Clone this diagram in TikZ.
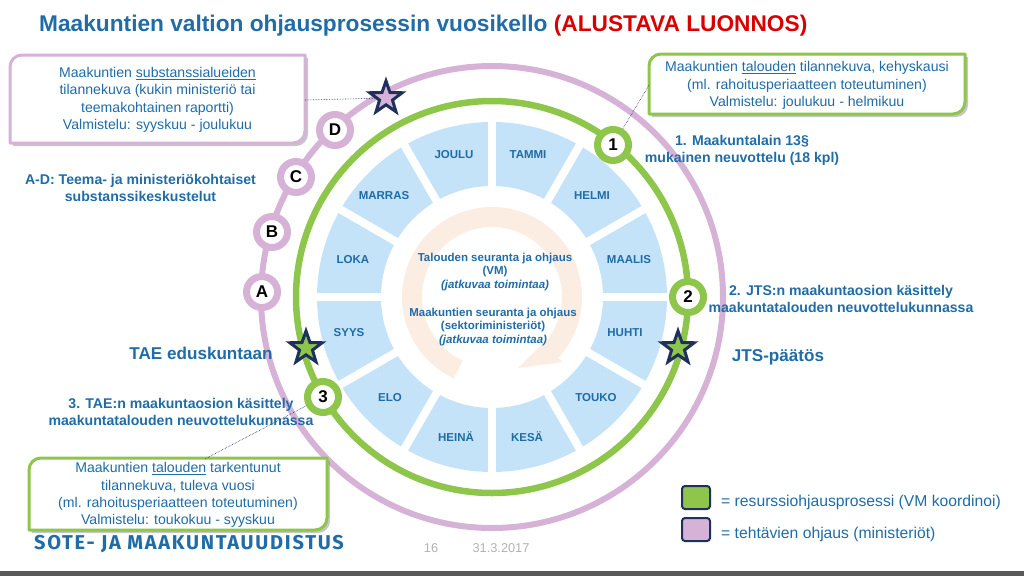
\documentclass[tikz,border=0pt]{standalone}
\usepackage{fontspec}
\setmainfont{Liberation Sans}
\newfontfamily\brandfont[LetterSpace=8.6]{Fira Sans}
\usetikzlibrary{calc, shapes.geometric, shadows}
\definecolor{ringGreen}{RGB}{141, 198, 74}
\definecolor{ringPurple}{RGB}{214, 179, 214}
\definecolor{monthBlue}{RGB}{196, 227, 248}
\definecolor{textBlue}{RGB}{31, 108, 166}
\definecolor{arcOrange}{RGB}{252, 237, 227}
\definecolor{starNavy}{RGB}{31, 48, 92}
\definecolor{footGray}{RGB}{89, 89, 89}
\tikzset{
  month/.style={text=textBlue, font=\fontsize{11.5}{13}\selectfont\bfseries},
  heading/.style={text=textBlue, align=center, font=\fontsize{14.1}{17}\selectfont\bfseries},
  bigheading/.style={text=textBlue, font=\fontsize{17.1}{19}\selectfont\bfseries},
  centertext/.style={text=textBlue, align=center, font=\fontsize{11.5}{13.8}\selectfont\bfseries},
  boxtext/.style={text=textBlue, align=center, font=\fontsize{14.1}{17.3}\selectfont, inner sep=0pt},
  boxline/.style={line width=3pt, line join=round, fill=white, drop shadow={shadow xshift=3pt, shadow yshift=-3pt, opacity=0.45}},
  marker/.style={circle, fill=white, line width=7pt, minimum size=31pt, inner sep=0pt, font=\fontsize{17}{17}\selectfont\bfseries},
  mark star/.style={star, star points=5, star point ratio=2.5, draw=starNavy, line width=3pt, minimum size=34pt, inner sep=0pt},
  leader/.style={densely dotted, line width=0.6pt, starNavy},
  swatch/.style={rectangle, draw=starNavy, line width=2pt, rounded corners=3pt, minimum width=28pt, minimum height=23pt},
  legendtext/.style={text=textBlue, anchor=west, inner sep=0pt, font=\fontsize{15.7}{17}\selectfont}
}

\begin{document}
\begin{tikzpicture}[x=1pt, y=-1pt]
  \useasboundingbox (0,0) rectangle (1024,576);
  \coordinate (c) at (492,297);

  % Footer bar
  \fill[footGray] (0,571) rectangle (1024,576);

  % Rings
  \draw[ringPurple, line width=6pt] (c) circle (231);
  \draw[ringGreen, line width=6.5pt] (c) circle (196);

  % Month sectors, cut by white spokes
  \fill[monthBlue, even odd rule] (c) circle (175) (c) circle (111);
  \foreach \a in {0,30,...,150}
    \draw[white, line width=8pt] ($(c)+(\a:180)$) -- ($(c)+(\a+180:180)$);

  % Continuous process arrow
  \draw[arcOrange, line width=20pt] (c) ++(115:80) arc (115:405:80);
  \fill[arcOrange] (563,362) -- (518,368) -- (541,345) -- cycle;

  % Month labels
  \node[month] (joulu) at (454,155) {JOULU};
  \node[month] (tammi) at (528,155) {TAMMI};
  \node[month] (helmi) at (592,196) {HELMI};
  \node[month] (maalis) at (629,260) {MAALIS};
  \node[month] (huhti) at (625,333) {HUHTI};
  \node[month] (touko) at (596,398) {TOUKO};
  \node[month] (kesa) at (527,437) {KESÄ};
  \node[month] (heina) at (456,437) {HEINÄ};
  \node[month] (elo) at (390,398) {ELO};
  \node[month] (syys) at (349,333) {SYYS};
  \node[month] (loka) at (353,260) {LOKA};
  \node[month] (marras) at (384,196) {MARRAS};

  % Center texts
  \node[centertext] (seurantaVM) at (495,272) {Talouden seuranta ja ohjaus\\(VM)\\\textit{(jatkuvaa toimintaa)}};
  \node[centertext] (seurantaSekt) at (493,327) {Maakuntien seuranta ja ohjaus\\(sektoriministeriöt)\\\textit{(jatkuvaa toimintaa)}};

  % Title
  \node[anchor=west, inner sep=0pt, text=textBlue, font=\fontsize{22.7}{25}\selectfont\bfseries] (title) at (39,26)
    {Maakuntien valtion ohjausprosessin vuosikello \textcolor{red!85!black}{(ALUSTAVA LUONNOS)}};

  % Ring headings
  \node[heading] (headAD) at (140.5,188) {A-D: Teema- ja ministeriökohtaiset\\substanssikeskustelut};
  \node[heading] (headOne) at (742,150.5) {1. Maakuntalain 13§\\mukainen neuvottelu (18 kpl)};
  \node[heading] (headTwo) at (841,299) {2. JTS:n maakuntaosion käsittely\\maakuntatalouden neuvottelukunnassa};
  \node[heading] (headThree) at (181,412) {3. TAE:n maakuntaosion käsittely\\maakuntatalouden neuvottelukunnassa};
  \node[bigheading] (jtsDecision) at (778,357) {JTS-päätös};
  \node[bigheading] (taeParliament) at (201,353) {TAE eduskuntaan};

  % Purple markers
  \node[marker, draw=ringPurple] (markA) at (262,292) {A};
  \node[marker, draw=ringPurple] (markB) at (272,232) {B};
  \node[marker, draw=ringPurple] (markC) at (296,177) {C};
  \node[marker, draw=ringPurple] (markD) at (335,130) {D};

  % Green markers
  \node[marker, draw=ringGreen] (markOne) at (613,145) {1};
  \node[marker, draw=ringGreen] (markTwo) at (688,297) {2};
  \node[marker, draw=ringGreen] (markThree) at (323,397) {3};

  % Stars
  \node[mark star, fill=ringPurple] (starTop) at (386,98) {};
  \node[mark star, fill=ringGreen] (starJts) at (678,348) {};
  \node[mark star, fill=ringGreen] (starTae) at (306,348) {};

  % Callout boxes
  \draw[ringPurple, boxline] (22,55) -- (305,55) -- (305,131) arc (0:90:12) -- (10,143) -- (10,67) arc (180:270:12) -- cycle;
  \node[boxtext, minimum width=295pt, minimum height=88pt] (boxSubst) at (157.5,100)
    {Maakuntien \underline{substanssialueiden}\\tilannekuva (kukin ministeriö tai\\teemakohtainen raportti)\\Valmistelu: syyskuu - joulukuu};

  \draw[ringGreen, boxline] (661,54) -- (965,54) -- (965,102) arc (0:90:12) -- (649,114) -- (649,66) arc (180:270:12) -- cycle;
  \node[boxtext, minimum width=316pt, minimum height=60pt] (boxTalous) at (807,85.5)
    {Maakuntien \underline{talouden} tilannekuva, kehyskausi\\(ml. rahoitusperiaatteen toteutuminen)\\Valmistelu: joulukuu - helmikuu};

  \draw[ringGreen, boxline] (41,458) -- (327,458) -- (327,518) arc (0:90:12) -- (29,530) -- (29,470) arc (180:270:12) -- cycle;
  \node[boxtext, minimum width=298pt, minimum height=72pt] (boxTarkennus) at (178,495)
    {Maakuntien \underline{talouden} tarkentunut\\tilannekuva, tuleva vuosi\\(ml. rahoitusperiaatteen toteutuminen)\\Valmistelu: toukokuu - syyskuu};

  % Leaders
  \draw[leader] (boxSubst.east) -- (starTop);
  \draw[leader] (boxTalous.west) -- (markOne);
  \draw[leader] (boxTarkennus.53) -- (markThree);

  % Brand and footer
  \node[anchor=west, inner sep=0pt, text=textBlue, font=\fontsize{20}{22}\selectfont\brandfont\bfseries] (brand) at (34,544) {SOTE- JA MAAKUNTAUUDISTUS};
  \node[text=black!30, font=\fontsize{12.8}{14}\selectfont] (pageNo) at (431,548) {16};
  \node[text=black!30, font=\fontsize{12.8}{14}\selectfont] (dateText) at (501,548) {31.3.2017};

  % Legend
  \node[swatch, fill=ringGreen] (swatchGreen) at (696,497.5) {};
  \node[swatch, fill=ringPurple] (swatchPurple) at (696,529.5) {};
  \node[legendtext] (legendGreen) at (721,502.5) {= resurssiohjausprosessi (VM koordinoi)};
  \node[legendtext] (legendPurple) at (721,534.5) {= tehtävien ohjaus (ministeriöt)};
\end{tikzpicture}
\end{document}
